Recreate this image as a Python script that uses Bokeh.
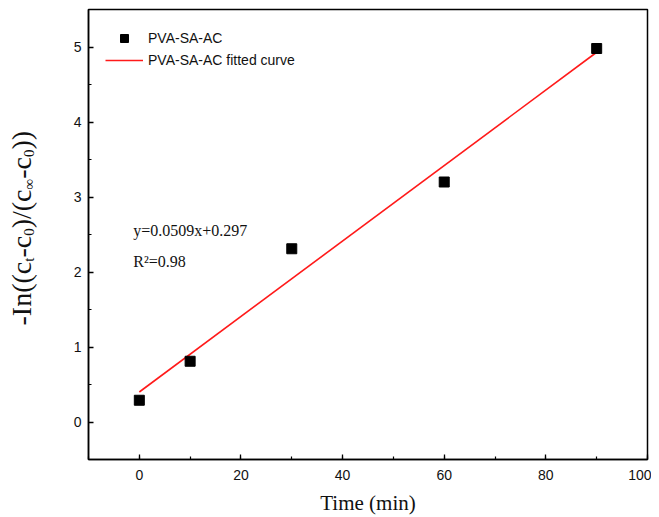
import math
from bokeh.plotting import figure
from bokeh.layouts import row
from bokeh.models import (ColumnDataSource, SingleIntervalTicker, Label, Legend, LegendItem, Range1d)
from bokeh.embed import file_html
from bokeh.resources import INLINE

# ---- data ----
time_min = [0, 10, 30, 60, 90]
ln_ratio = [0.29, 0.81, 2.31, 3.20, 4.98]
fit_x = [0, 90]
fit_y = [0.40, 4.93]
x_ticks_interval = 20
y_ticks_interval = 1
series_label = "PVA-SA-AC"
fit_label = "PVA-SA-AC fitted curve"
eq_text = "y=0.0509x+0.297"
r2_text = "R\u00b2=0.98"
x_title = "Time (min)"

H = 517
LW = 60
W = 591

# ---- left strip holding the composed y-axis title ----
lf = figure(width=LW, height=H, output_backend="svg", toolbar_location=None,
            x_axis_type=None, y_axis_type=None, x_range=Range1d(0, LW), y_range=Range1d(0, H),
            min_border=0)
lf.outline_line_color = None
lf.grid.visible = False

main_fs, sub_fs = 28, 15
adv = {"-": 0.333, "I": 0.333, "n": 0.5, "(": 0.333, ")": 0.333, "c": 0.444, "/": 0.278,
       "t": 0.278, "0": 0.5, "\u221e": 0.713}
pieces = [("-In((c", False), ("t", True), ("-c", False), ("0", True), (")/(c", False),
          ("\u221e", True), ("-c", False), ("0", True), ("))", False)]
ypos = 460.0 - 326.0
for txt, sub in pieces:
    fs = sub_fs if sub else main_fs
    xb = 28.5 if sub else 20.5
    lf.add_layout(Label(x=xb, y=ypos, x_units="screen", y_units="screen", text=txt, angle=math.pi / 2,
                        text_font="Liberation Serif", text_font_size=f"{fs}px", text_color="#111111",
                        text_align="left", text_baseline="alphabetic"))
    ypos += sum(adv[ch] for ch in txt) * fs

# ---- main plot ----
p = figure(width=W, height=H, output_backend="svg", toolbar_location=None,
           x_range=Range1d(-10, 100), y_range=Range1d(-0.5, 5.5),
           min_border_left=88 - LW, min_border_right=4, min_border_top=9, min_border_bottom=57)
p.grid.visible = False
p.outline_line_color = "black"
p.outline_line_width = 1.5

src = ColumnDataSource(dict(x=time_min, y=ln_ratio))
fit_src = ColumnDataSource(dict(x=fit_x, y=fit_y))
r_line = p.line("x", "y", source=fit_src, line_color="#ff1a1a", line_width=1.6)
r_pts = p.scatter("x", "y", source=src, marker="square", size=10, fill_color="black", line_color="black")

for ax, interval in ((p.xaxis[0], x_ticks_interval), (p.yaxis[0], y_ticks_interval)):
    ax.ticker = SingleIntervalTicker(interval=interval, num_minor_ticks=2)
    ax.axis_line_width = 1.5
    ax.axis_line_color = "black"
    ax.major_tick_line_color = "black"
    ax.minor_tick_line_color = "black"
    ax.major_tick_line_width = 1.3
    ax.minor_tick_line_width = 1.2
    ax.major_tick_in = 5
    ax.major_tick_out = 0
    ax.minor_tick_in = 3
    ax.minor_tick_out = 0
    ax.major_label_text_font = "Liberation Sans"
    ax.major_label_text_font_size = "14px"
    ax.major_label_text_color = "#111111"

p.xaxis.major_label_standoff = 10
p.yaxis.major_label_standoff = 7
p.xaxis.axis_label = x_title
p.xaxis.axis_label_text_font = "Liberation Serif"
p.xaxis.axis_label_text_font_size = "21px"
p.xaxis.axis_label_text_font_style = "normal"
p.xaxis.axis_label_text_color = "#111111"
p.xaxis.axis_label_standoff = 8

legend = Legend(items=[LegendItem(label=series_label, renderers=[r_pts]),
                       LegendItem(label=fit_label, renderers=[r_line])],
                location=(17, 389), border_line_color=None, background_fill_alpha=0,
                glyph_width=38, glyph_height=20, label_height=20, spacing=2, padding=10,
                label_standoff=5, label_text_font="Liberation Sans", label_text_font_size="14px",
                label_text_color="#111111", margin=0)
p.add_layout(legend)

for txt, yy in ((eq_text, 2.56), (r2_text, 2.14)):
    p.add_layout(Label(x=-1.2, y=yy, text=txt, text_font="Liberation Serif", text_font_size="16px",
                       text_color="#111111", text_baseline="alphabetic"))

layout = row(lf, p, spacing=0)
open("out.html", "w").write(file_html(layout, INLINE))
